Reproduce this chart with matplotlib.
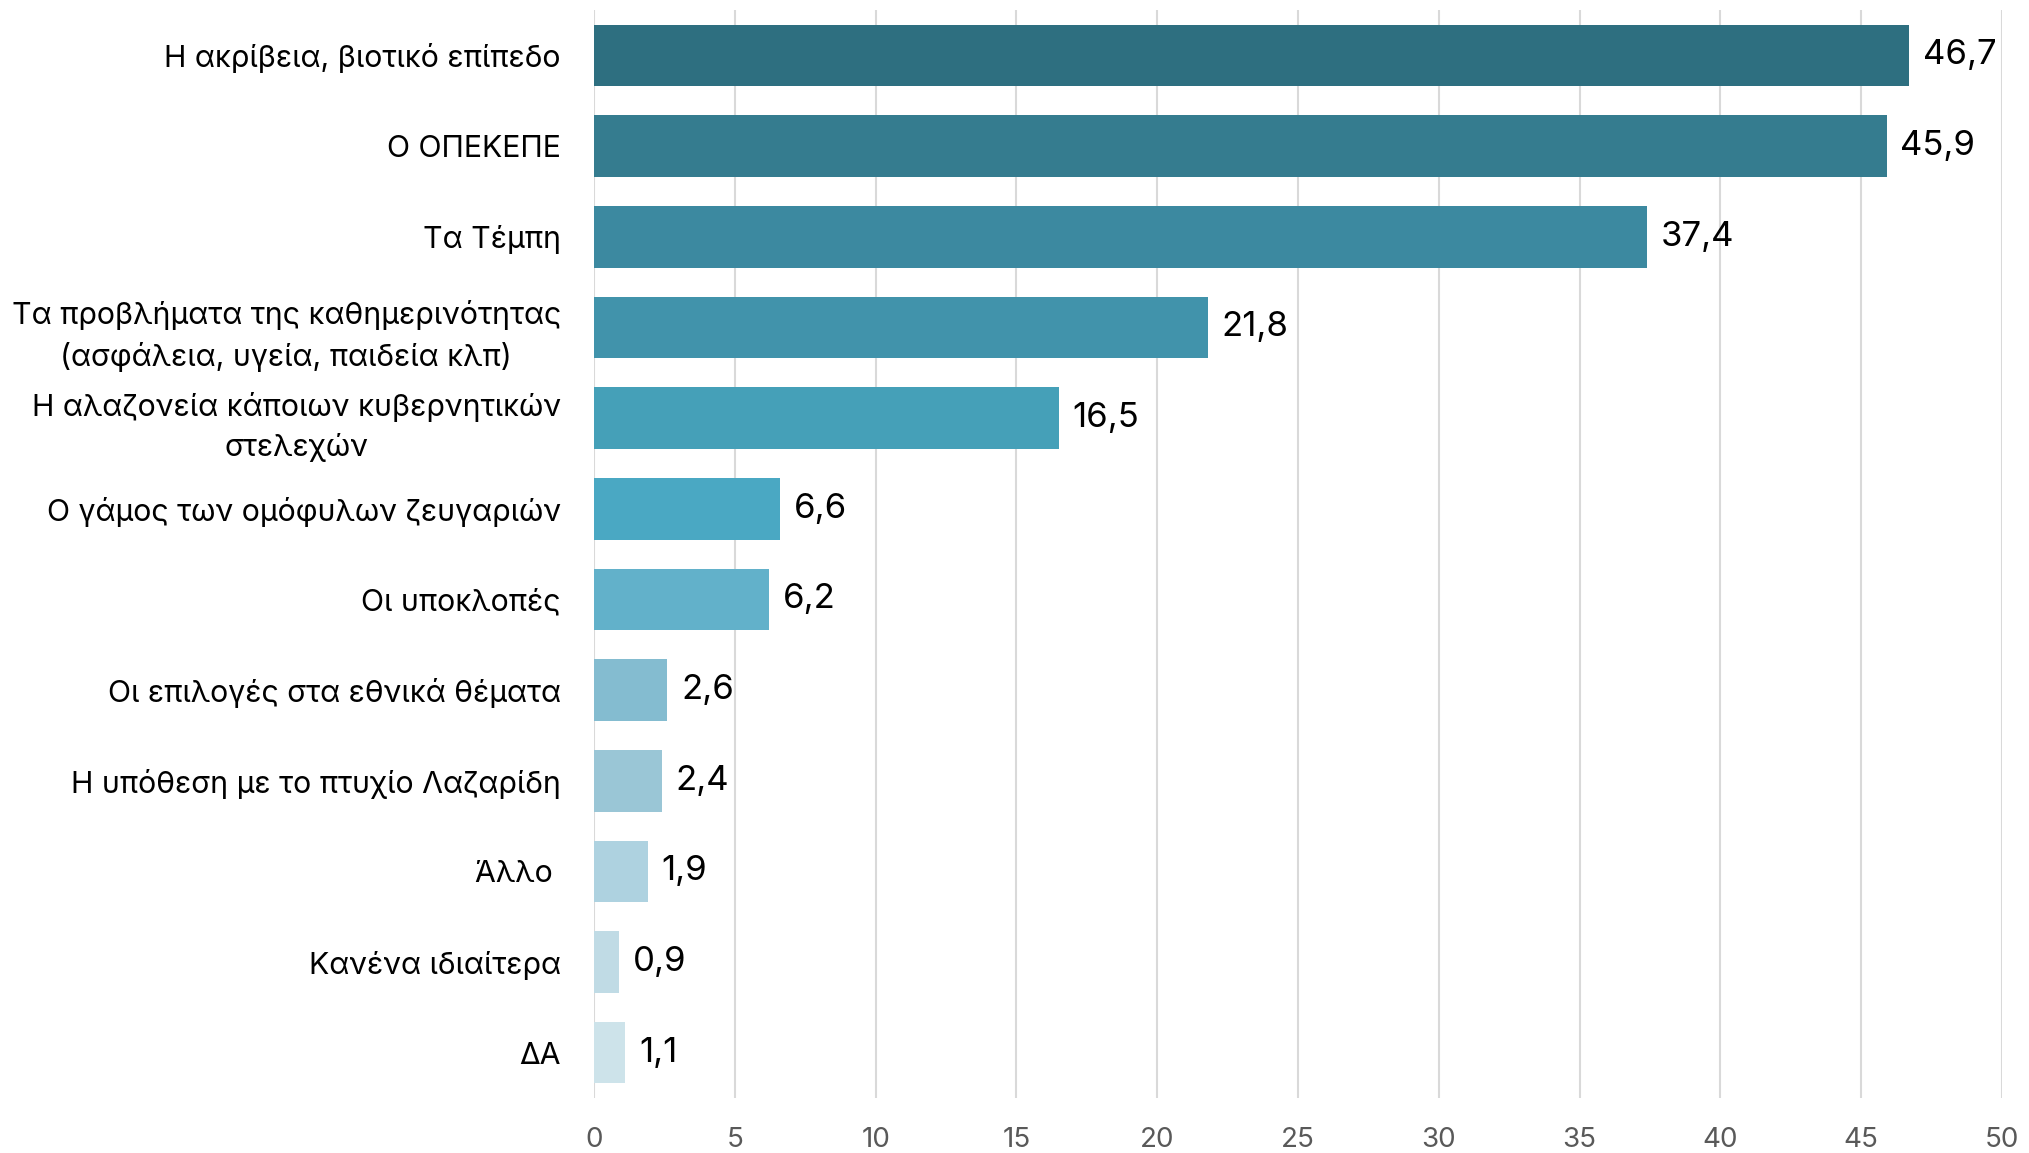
import numpy as np
import matplotlib.pyplot as plt

# ------------------------------- DATA --------------------------------- #
categories = [
    "Η ακρίβεια, βιοτικό επίπεδο",
    "Ο ΟΠΕΚΕΠΕ",
    "Τα Τέμπη",
    "Τα προβλήματα της καθημερινότητας\n(ασφάλεια, υγεία, παιδεία κλπ)",
    "Η αλαζονεία κάποιων κυβερνητικών\nστελεχών",
    "Ο γάμος των ομόφυλων ζευγαριών",
    "Οι υποκλοπές",
    "Οι επιλογές στα εθνικά θέματα",
    "Η υπόθεση με το πτυχίο Λαζαρίδη",
    "Άλλο ",
    "Κανένα ιδιαίτερα",
    "ΔΑ",
]
values = [46.7, 45.9, 37.4, 21.8, 16.5, 6.6, 6.2, 2.6, 2.4, 1.9, 0.9, 1.1]
bar_colors = [
    "#2E6F80", "#357C8F", "#3C89A0", "#4193AB", "#45A0B8", "#4AA8C3",
    "#62B1CA", "#84BCD0", "#9AC6D6", "#AED2E0", "#C0DBE5", "#CDE3EA",
]
xticks = [0, 5, 10, 15, 20, 25, 30, 35, 40, 45, 50]

# ------------------------------ PLOT ---------------------------------- #
plt.rcParams["font.family"] = ["Inter", "DejaVu Sans"]

fig = plt.figure(figsize=(20.29, 11.53), dpi=100)
ax = fig.add_axes([0.2928, 0.0477, 0.6939, 0.9436])

y = np.arange(len(categories))
ax.barh(y, values, height=0.68, color=bar_colors, zorder=3)

for yi, v in zip(y, values):
    ax.annotate(f"{v:.1f}".replace(".", ","), (v, yi), xytext=(10, 0),
                textcoords="offset points", va="center", ha="left",
                fontsize=25, color="black")

ax.set_xlim(0, 50)
ax.set_ylim(len(categories) - 0.5, -0.5)
ax.set_xticks(xticks)
ax.set_xticklabels([str(t) for t in xticks], fontsize=20, color="#595959")
ax.set_yticks(y)
ax.set_yticklabels(categories, fontsize=21.8, color="black",
                   multialignment="center", linespacing=1.5)
ax.tick_params(axis="y", length=0, pad=24)
ax.tick_params(axis="x", length=0, pad=21)
ax.grid(axis="x", color="#D9D9D9", linewidth=1.5, zorder=0)
for s in ax.spines.values():
    s.set_visible(False)

fig.savefig("out.png", dpi=100)
